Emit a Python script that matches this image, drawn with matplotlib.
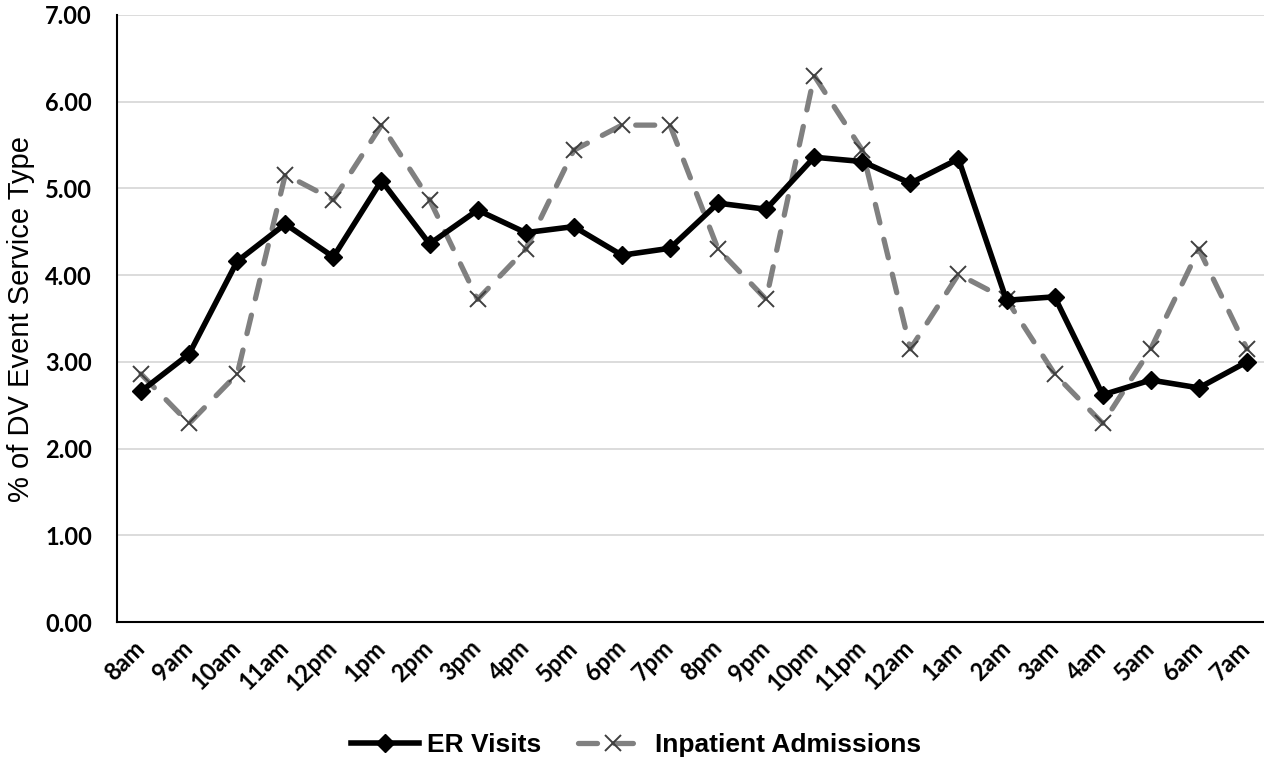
import matplotlib
matplotlib.use("Agg")
import matplotlib.pyplot as plt

hours = ["8am", "9am", "10am", "11am", "12pm", "1pm", "2pm", "3pm", "4pm", "5pm",
         "6pm", "7pm", "8pm", "9pm", "10pm", "11pm", "12am", "1am", "2am", "3am",
         "4am", "5am", "6am", "7am"]
er_visits = [2.66, 3.09, 4.16, 4.59, 4.21, 5.09, 4.36, 4.75, 4.49, 4.56,
             4.23, 4.31, 4.83, 4.76, 5.36, 5.31, 5.06, 5.34, 3.71, 3.75,
             2.62, 2.79, 2.70, 3.00]
inpatient = [2.86, 2.29, 2.86, 5.16, 4.87, 5.73, 4.87, 3.72, 4.30, 5.44,
             5.73, 5.73, 4.30, 3.72, 6.30, 5.44, 3.15, 4.01, 3.72, 2.86,
             2.29, 3.15, 4.30, 3.15]
yticks = [0, 1, 2, 3, 4, 5, 6, 7]

fig = plt.figure(figsize=(12.64, 7.65), dpi=100)
ax = fig.add_axes([117 / 1264, 143 / 765, 1154 / 1264, 607 / 765])

x = list(range(len(hours)))
ax.plot(x, inpatient, color="#808080", lw=3.8, ls=(0, (3.6, 3.2)),
        dash_capstyle="round", marker="x", ms=12, mew=1.4, mec="#3f3f3f",
        label="Inpatient Admissions", zorder=3)
ax.plot(x, er_visits, color="black", lw=4, marker="D", ms=9.5,
        label="ER Visits", zorder=4)

ax.set_xlim(-0.5, len(hours) - 0.5)
ax.set_ylim(0, 7)
ax.set_yticks(yticks)
ax.set_yticklabels(["%.2f" % v for v in yticks], fontsize=17, fontweight="bold",
                   family="Lato")
ax.set_xticks(x)
ax.set_xticklabels(hours, rotation=45, ha="right", va="center",
                   rotation_mode="anchor", fontsize=17, fontweight="bold",
                   family="Lato")
ax.tick_params(axis="y", length=0, pad=18)
ax.tick_params(axis="x", length=0, pad=16)
ax.grid(axis="y", color="#d9d9d9", lw=1.3)
ax.set_axisbelow(True)
for s in ["top", "right"]:
    ax.spines[s].set_visible(False)
ax.spines["left"].set_linewidth(1.5)
ax.spines["bottom"].set_linewidth(1.5)

ax.set_ylabel("% of DV Event Service Type", fontsize=21, family="Liberation Sans")
ax.yaxis.set_label_coords(-0.071, 0.5)

h, l = ax.get_legend_handles_labels()
fig.legend(h[::-1], l[::-1], loc="center", bbox_to_anchor=(0.503, 0.026), ncol=2,
           frameon=False, handlelength=2.6, handletextpad=0.3,
           columnspacing=1.4,
           prop={"family": "Liberation Sans", "size": 19, "weight": "bold"})

fig.savefig("out.png", dpi=100)
